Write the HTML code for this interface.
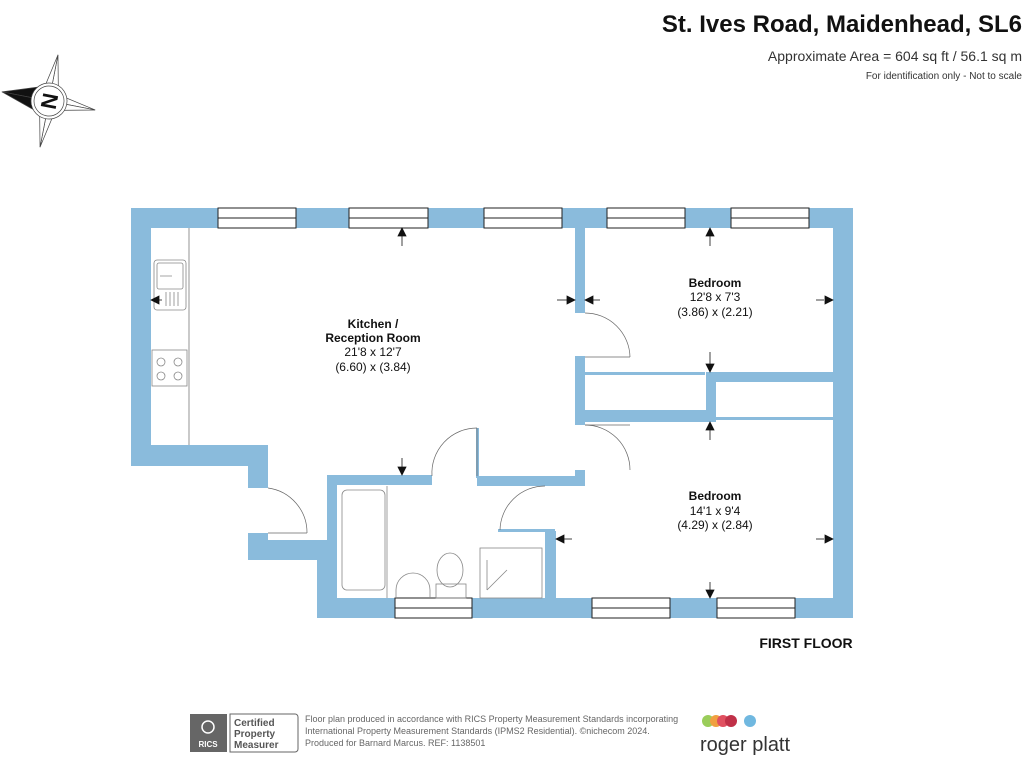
<!DOCTYPE html>
<html><head><meta charset="utf-8"><style>
body{margin:0;background:#fff;width:1024px;height:768px;overflow:hidden;font-family:"Liberation Sans",Arial,sans-serif}
</style></head><body>
<svg width="1024" height="768" viewBox="0 0 1024 768" xmlns="http://www.w3.org/2000/svg" font-family="Liberation Sans, Arial, sans-serif">
<g fill="#111">
<text x="1022" y="32" font-size="24" font-weight="bold" text-anchor="end">St. Ives Road, Maidenhead, SL6</text>
<text x="1022" y="61" font-size="14" text-anchor="end" fill="#333">Approximate Area = 604 sq ft / 56.1 sq m</text>
<text x="1022" y="79" font-size="10" text-anchor="end" fill="#333">For identification only - Not to scale</text>
</g>
<!-- compass -->
<g transform="translate(49,101) rotate(-79)" stroke="#444" stroke-width="0.7">
<polygon points="0,-48 12,-12 0,0" fill="#111"/><polygon points="0,-48 -12,-12 0,0" fill="#111"/>
<polygon points="0,47 8,8 0,0" fill="#fff"/><polygon points="0,47 -8,8 0,0" fill="#fff"/>
<polygon points="47,0 8,8 0,0" fill="#fff"/><polygon points="47,0 8,-8 0,0" fill="#fff"/>
<polygon points="-47,0 -8,8 0,0" fill="#fff"/><polygon points="-47,0 -8,-8 0,0" fill="#fff"/>
<circle r="18" fill="#fff"/><circle r="15" fill="none"/>
<text x="0" y="8" font-size="22" font-weight="bold" text-anchor="middle" fill="#111" stroke="none">N</text>
</g>
<!-- walls -->
<g fill="#8abbdc">
<rect x="131" y="208" width="722" height="20"/>
<rect x="131" y="208" width="20" height="258"/>
<rect x="131" y="445" width="137" height="21"/>
<rect x="248" y="445" width="20" height="43"/>
<rect x="248" y="533" width="20" height="27"/>
<rect x="248" y="540" width="75" height="20"/>
<rect x="317" y="540" width="20" height="78"/>
<rect x="327" y="475" width="10" height="70"/>
<rect x="327" y="475" width="105" height="10"/>
<rect x="477" y="476" width="108" height="10"/>
<rect x="476" y="428" width="3" height="50"/>
<rect x="575" y="228" width="10" height="85"/>
<rect x="575" y="356" width="10" height="69"/>
<rect x="575" y="470" width="10" height="16"/>
<rect x="585" y="410" width="130" height="12"/>
<rect x="706" y="372" width="10" height="50"/>
<rect x="706" y="372" width="127" height="10"/>
<rect x="545" y="531" width="11" height="70"/>
<rect x="498" y="529" width="57" height="3"/>
<rect x="317" y="598" width="536" height="20"/>
<rect x="833" y="208" width="20" height="410"/>
<rect x="585" y="372" width="120" height="3"/>
<rect x="715" y="417" width="118" height="3"/>
</g>
<!-- windows -->
<g fill="#fff" stroke="#222" stroke-width="1">
<rect x="218" y="208" width="78" height="20"/><rect x="349" y="208" width="79" height="20"/><rect x="484" y="208" width="78" height="20"/><rect x="607" y="208" width="78" height="20"/><rect x="731" y="208" width="78" height="20"/>
<rect x="395" y="598" width="77" height="20"/><rect x="592" y="598" width="78" height="20"/><rect x="717" y="598" width="78" height="20"/>
<path d="M218 218h78M349 218h79M484 218h78M607 218h78M731 218h78M395 608h77M592 608h78M717 608h78"/>
</g>
<!-- doors -->
<g fill="none" stroke="#666" stroke-width="0.7">
<path d="M268 488 A45 45 0 0 1 307 533"/><path d="M268 533h39"/>
<path d="M477 428 A45 45 0 0 0 432 476"/><path d="M477 428v48"/>
<path d="M585 313 A45 45 0 0 1 630 357"/><path d="M585 357h45"/>
<path d="M585 425 A45 45 0 0 1 630 470"/><path d="M585 425h45"/>
<path d="M545 486 A45 45 0 0 0 500 530"/>
<path d="M189 228v217"/>
</g>
<!-- fixtures -->
<g fill="none" stroke="#888" stroke-width="0.8">
<rect x="154" y="260" width="32" height="50" rx="3"/><rect x="157" y="263" width="26" height="26" rx="2"/>
<path d="M160 276h12M170 292v14M174 292v14M178 292v14M166 292v14"/>
<rect x="152" y="350" width="35" height="36"/>
<circle cx="161" cy="362" r="4"/><circle cx="178" cy="362" r="4"/><circle cx="161" cy="376" r="4"/><circle cx="178" cy="376" r="4"/>
<rect x="342" y="490" width="43" height="100" rx="5"/>
<path d="M387 486v112"/>
<path d="M396 598v-8a17 17 0 0 1 34 0v8"/>
<ellipse cx="450" cy="570" rx="13" ry="17"/><rect x="436" y="584" width="30" height="14"/>
<rect x="480" y="548" width="62" height="50"/><path d="M487 590l20-20M487 560v30"/>
</g>
<!-- arrows -->
<g fill="#111" stroke="#111" stroke-width="0.8">
<path d="M402 246v-14"/><polygon points="398,236 406,236 402,228"/>
<path d="M402 458v12"/><polygon points="398,467 406,467 402,475"/>
<path d="M162 300h-6"/><polygon points="159,296 159,304 151,300"/>
<path d="M557 300h10"/><polygon points="567,296 567,304 575,300"/>
<path d="M600 300h-8"/><polygon points="593,296 593,304 585,300"/>
<path d="M710 246v-14"/><polygon points="706,236 714,236 710,228"/>
<path d="M710 352v12"/><polygon points="706,364 714,364 710,372"/>
<path d="M816 300h8"/><polygon points="825,296 825,304 833,300"/>
<path d="M710 440v-14"/><polygon points="706,430 714,430 710,422"/>
<path d="M572 539h-8"/><polygon points="564,535 564,543 556,539"/>
<path d="M816 539h8"/><polygon points="825,535 825,543 833,539"/>
<path d="M710 582v8"/><polygon points="706,590 714,590 710,598"/>
</g>
<!-- labels -->
<g fill="#111" font-size="12" text-anchor="middle">
<text x="373" y="328" font-weight="bold">Kitchen /</text>
<text x="373" y="342" font-weight="bold">Reception Room</text>
<text x="373" y="356">21'8 x 12'7</text>
<text x="373" y="371">(6.60) x (3.84)</text>
<text x="715" y="287" font-weight="bold">Bedroom</text>
<text x="715" y="301">12'8 x 7'3</text>
<text x="715" y="316">(3.86) x (2.21)</text>
<text x="715" y="500" font-weight="bold">Bedroom</text>
<text x="715" y="515">14'1 x 9'4</text>
<text x="715" y="529">(4.29) x (2.84)</text>
<text x="806" y="648" font-size="14" font-weight="bold">FIRST FLOOR</text>
</g>
<!-- footer -->
<rect x="190" y="714" width="37" height="38" fill="#666"/>
<circle cx="208" cy="727" r="6" fill="none" stroke="#fff" stroke-width="1.5"/>
<text x="208" y="747" font-size="8" font-weight="bold" fill="#fff" text-anchor="middle">RICS</text>
<path d="M230 714h65a3 3 0 0 1 3 3v32a3 3 0 0 1-3 3h-65z" fill="none" stroke="#666"/>
<g font-size="10" font-weight="bold" fill="#555"><text x="234" y="726">Certified</text><text x="234" y="737">Property</text><text x="234" y="748">Measurer</text></g>
<g font-size="9" fill="#666"><text x="305" y="722">Floor plan produced in accordance with RICS Property Measurement Standards incorporating</text><text x="305" y="734">International Property Measurement Standards (IPMS2 Residential).   ©nichecom 2024.</text><text x="305" y="746">Produced for Barnard Marcus.   REF:  1138501</text></g>
<circle cx="708" cy="721" r="6" fill="#9acd5a"/><circle cx="716" cy="721" r="6" fill="#f0a040"/><circle cx="723" cy="721" r="6" fill="#e05060"/><circle cx="731" cy="721" r="6" fill="#c03048"/><circle cx="750" cy="721" r="6" fill="#70b8e0"/>
<text x="700" y="751" font-size="20" fill="#333">roger platt</text>
</svg>
</body></html>
